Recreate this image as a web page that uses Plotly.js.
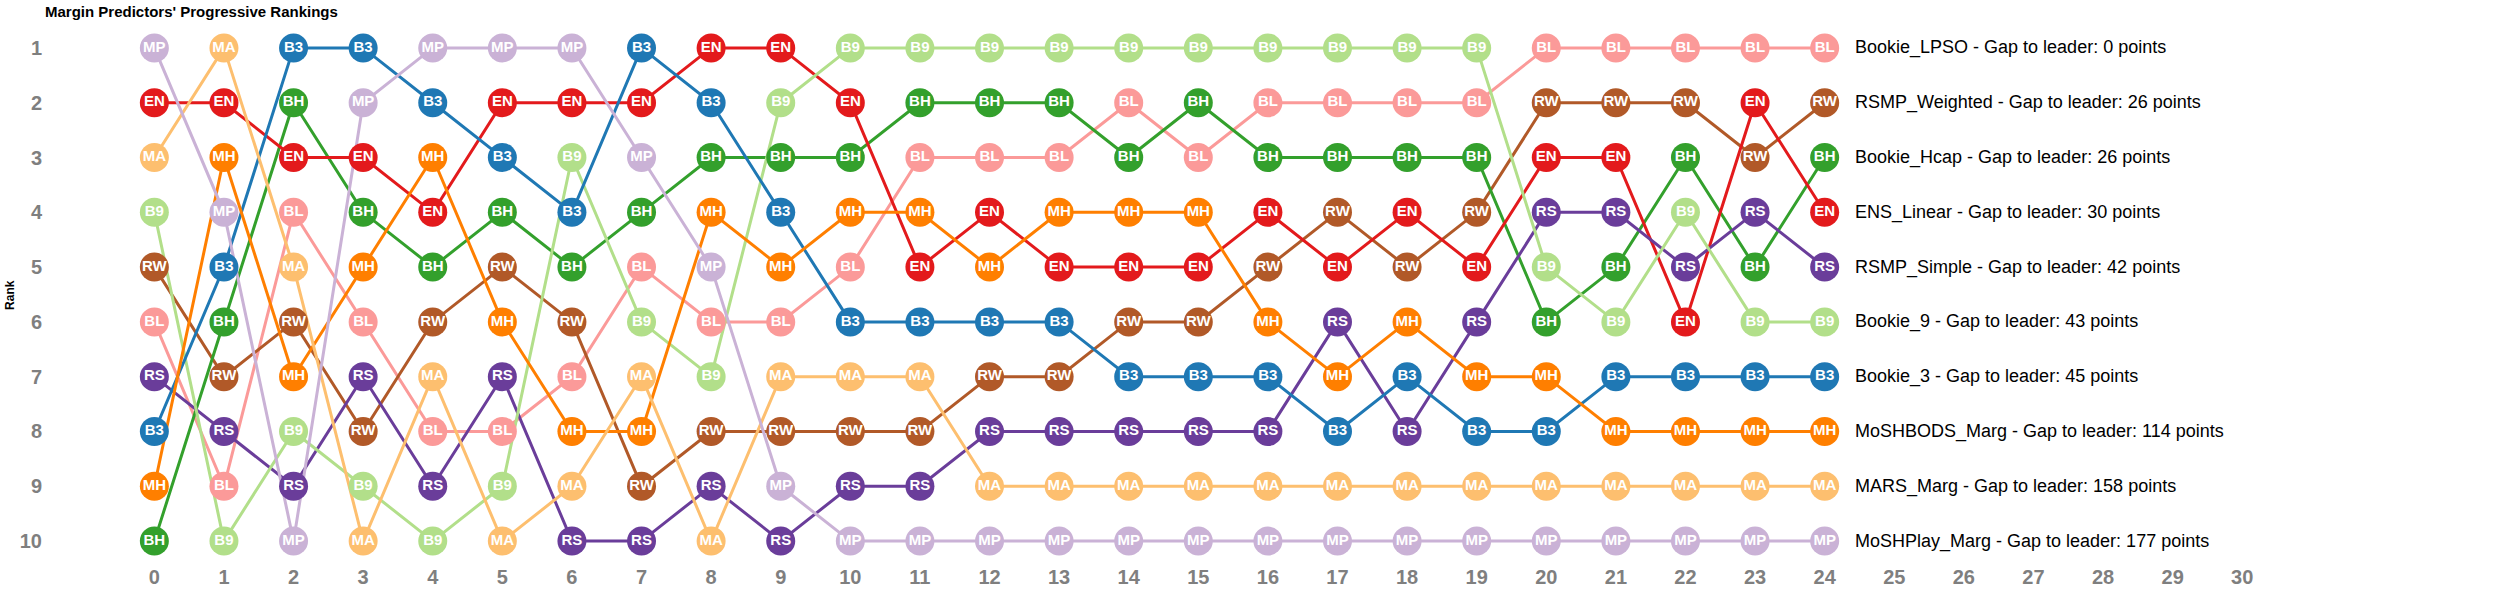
<!DOCTYPE html>
<html>
<head>
<meta charset="utf-8">
<script src="https://cdn.plot.ly/plotly-3.0.1.min.js"></script>
<style>
body { margin: 0; background: #fff; }
#chart { width: 2500px; height: 608px; }
</style>
</head>
<body>
<div id="chart"></div>
<script>
// predictors, in final ranking order
var codes = ['BL', 'RW', 'BH', 'EN', 'RS', 'B9', 'B3', 'MH', 'MA', 'MP'];
var names = ['Bookie_LPSO', 'RSMP_Weighted', 'Bookie_Hcap', 'ENS_Linear', 'RSMP_Simple',
             'Bookie_9', 'Bookie_3', 'MoSHBODS_Marg', 'MARS_Marg', 'MoSHPlay_Marg'];
var gapToLeader = [0, 26, 26, 30, 42, 43, 45, 114, 158, 177];
var colors = ['#fb9a99', '#b15928', '#33a02c', '#e31a1c', '#6a3d9a',
              '#b2df8a', '#1f78b4', '#ff7f00', '#fdbf6f', '#cab2d6'];

var rounds = [0, 1, 2, 3, 4, 5, 6, 7, 8, 9, 10, 11, 12, 13, 14, 15, 16, 17, 18, 19, 20, 21, 22, 23, 24];
var xTicks = [0, 1, 2, 3, 4, 5, 6, 7, 8, 9, 10, 11, 12, 13, 14, 15, 16, 17, 18, 19, 20, 21, 22, 23, 24, 25, 26, 27, 28, 29, 30];
var yTicks = [1, 2, 3, 4, 5, 6, 7, 8, 9, 10];

// who sat at rank 1..10 after each round
var standings = [
  ['MP', 'EN', 'MA', 'B9', 'RW', 'BL', 'RS', 'B3', 'MH', 'BH'],
  ['MA', 'EN', 'MH', 'MP', 'B3', 'BH', 'RW', 'RS', 'BL', 'B9'],
  ['B3', 'BH', 'EN', 'BL', 'MA', 'RW', 'MH', 'B9', 'RS', 'MP'],
  ['B3', 'MP', 'EN', 'BH', 'MH', 'BL', 'RS', 'RW', 'B9', 'MA'],
  ['MP', 'B3', 'MH', 'EN', 'BH', 'RW', 'MA', 'BL', 'RS', 'B9'],
  ['MP', 'EN', 'B3', 'BH', 'RW', 'MH', 'RS', 'BL', 'B9', 'MA'],
  ['MP', 'EN', 'B9', 'B3', 'BH', 'RW', 'BL', 'MH', 'MA', 'RS'],
  ['B3', 'EN', 'MP', 'BH', 'BL', 'B9', 'MA', 'MH', 'RW', 'RS'],
  ['EN', 'B3', 'BH', 'MH', 'MP', 'BL', 'B9', 'RW', 'RS', 'MA'],
  ['EN', 'B9', 'BH', 'B3', 'MH', 'BL', 'MA', 'RW', 'MP', 'RS'],
  ['B9', 'EN', 'BH', 'MH', 'BL', 'B3', 'MA', 'RW', 'RS', 'MP'],
  ['B9', 'BH', 'BL', 'MH', 'EN', 'B3', 'MA', 'RW', 'RS', 'MP'],
  ['B9', 'BH', 'BL', 'EN', 'MH', 'B3', 'RW', 'RS', 'MA', 'MP'],
  ['B9', 'BH', 'BL', 'MH', 'EN', 'B3', 'RW', 'RS', 'MA', 'MP'],
  ['B9', 'BL', 'BH', 'MH', 'EN', 'RW', 'B3', 'RS', 'MA', 'MP'],
  ['B9', 'BH', 'BL', 'MH', 'EN', 'RW', 'B3', 'RS', 'MA', 'MP'],
  ['B9', 'BL', 'BH', 'EN', 'RW', 'MH', 'B3', 'RS', 'MA', 'MP'],
  ['B9', 'BL', 'BH', 'RW', 'EN', 'RS', 'MH', 'B3', 'MA', 'MP'],
  ['B9', 'BL', 'BH', 'EN', 'RW', 'MH', 'B3', 'RS', 'MA', 'MP'],
  ['B9', 'BL', 'BH', 'RW', 'EN', 'RS', 'MH', 'B3', 'MA', 'MP'],
  ['BL', 'RW', 'EN', 'RS', 'B9', 'BH', 'MH', 'B3', 'MA', 'MP'],
  ['BL', 'RW', 'EN', 'RS', 'BH', 'B9', 'B3', 'MH', 'MA', 'MP'],
  ['BL', 'RW', 'BH', 'B9', 'RS', 'EN', 'B3', 'MH', 'MA', 'MP'],
  ['BL', 'EN', 'RW', 'RS', 'BH', 'B9', 'B3', 'MH', 'MA', 'MP'],
  ['BL', 'RW', 'BH', 'EN', 'RS', 'B9', 'B3', 'MH', 'MA', 'MP']
];

var FONT = 'Liberation Sans, Arial, Helvetica, sans-serif';

// lines go first so every point sits on top of every line
var lineTraces = [];
var pointTraces = [];
codes.forEach(function (code, i) {
  var ranks = standings.map(function (order) { return order.indexOf(code) + 1; });
  lineTraces.push({
    x: rounds, y: ranks, type: 'scatter', mode: 'lines',
    line: { color: colors[i], width: 3 },
    hoverinfo: 'skip', showlegend: false
  });
  pointTraces.push({
    x: rounds, y: ranks, type: 'scatter', mode: 'markers+text',
    text: rounds.map(function () { return code; }),
    textposition: 'middle center',
    textfont: { family: FONT, size: 15, color: '#ffffff', weight: 'bold' },
    marker: { color: colors[i], size: 29 },
    name: names[i], showlegend: false
  });
});

var lastRound = rounds[rounds.length - 1];
var annotations = names.map(function (nm, i) {
  return {
    xref: 'x', yref: 'y', x: lastRound + 0.4, y: i + 1,
    xanchor: 'left', yanchor: 'middle', showarrow: false,
    text: nm + ' - Gap to leader: ' + gapToLeader[i] + ' points',
    font: { family: FONT, size: 18, color: '#000000' }
  };
});
annotations.push({
  xref: 'paper', yref: 'paper', x: -0.015, y: 0.5,
  xanchor: 'center', yanchor: 'middle', showarrow: false, textangle: -90,
  text: '<b>Rank</b>', font: { family: FONT, size: 12, color: '#000000' }
});

var tickFont = { family: FONT, size: 20, color: '#7f7f7f', weight: 'bold' };

var layout = {
  width: 2500, height: 608,
  margin: { l: 43, r: 216, t: 26, b: 45 },
  paper_bgcolor: '#ffffff', plot_bgcolor: '#ffffff',
  title: {
    text: "<b>Margin Predictors' Progressive Rankings</b>",
    xref: 'container', yref: 'container', x: 0.018, xanchor: 'left', y: 0.981, yanchor: 'middle',
    font: { family: FONT, size: 15, color: '#000000' }
  },
  xaxis: {
    range: [-1.6, 30.6], tickvals: xTicks, ticks: '', showgrid: false, zeroline: false,
    showline: false, tickfont: tickFont, fixedrange: true
  },
  yaxis: {
    range: [10.4, 0.6], tickvals: yTicks, ticks: '', showgrid: false, zeroline: false,
    showline: false, tickfont: tickFont, fixedrange: true
  },
  annotations: annotations,
  showlegend: false,
  hovermode: 'closest'
};

Plotly.newPlot('chart', lineTraces.concat(pointTraces), layout, { displayModeBar: false, staticPlot: true });
</script>
</body>
</html>
